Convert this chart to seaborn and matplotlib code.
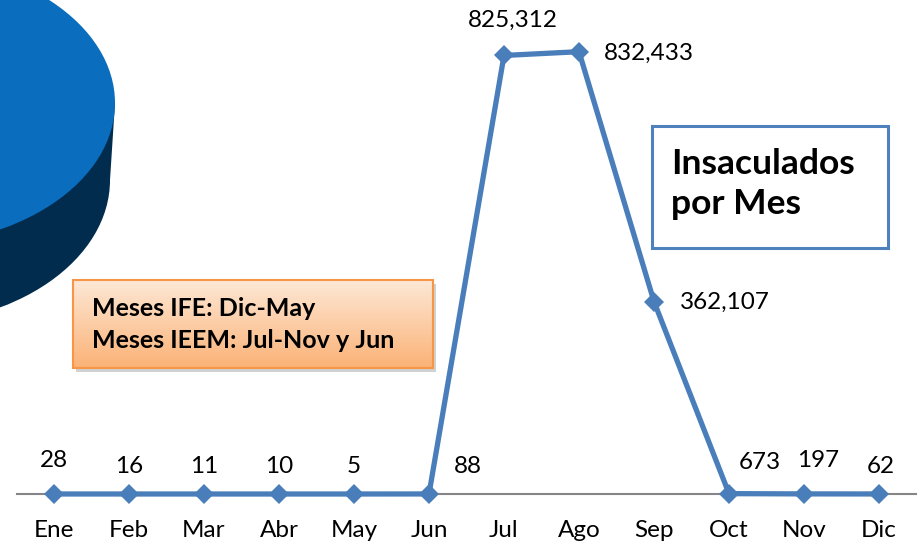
import matplotlib
matplotlib.use("Agg")
import matplotlib.pyplot as plt
import seaborn as sns
import numpy as np
import pandas as pd
from matplotlib.patches import Ellipse, Polygon, Rectangle

# ---- data ----
months = ["Ene", "Feb", "Mar", "Abr", "May", "Jun", "Jul", "Ago", "Sep", "Oct", "Nov", "Dic"]
insaculados = [28, 16, 11, 10, 5, 88, 825312, 832433, 362107, 673, 197, 62]
value_labels = ["28", "16", "11", "10", "5", "88", "825,312", "832,433", "362,107", "673", "197", "62"]
title_text = "Insaculados\npor Mes"
note_lines = ["Meses IFE: Dic-May", "Meses IEEM: Jul-Nov y Jun"]

sns.set_theme(style="white")
plt.rcParams["font.family"] = ["Lato", "DejaVu Sans"]

W, H = 923, 544
fig = plt.figure(figsize=(W / 100, H / 100), dpi=100)
fig.patch.set_facecolor("white")

# overlay (pixel coordinates) for decorations
ov = fig.add_axes([0, 0, 1, 1], zorder=0)
ov.set_xlim(0, W)
ov.set_ylim(H, 0)
ov.axis("off")

# decorative 3D pie fragment (top-left)
dark = "#012C4E"
ov.add_patch(Ellipse((-100, 180), 420, 290, color=dark, lw=0))
ov.add_patch(Polygon([(-315, 103), (115, 103), (110, 180), (-310, 180)], closed=True, color=dark, lw=0))
ov.add_patch(Ellipse((-100, 103), 430, 286, color="#0A6DBE", lw=0))

# main chart
ax_bottom = 50 / H
ax = fig.add_axes([16.5 / W, ax_bottom, 900 / W, 1 - ax_bottom], zorder=2)
ax.patch.set_alpha(0)
df = pd.DataFrame({"Mes": months, "Insaculados": insaculados})
sns.lineplot(data=df, x="Mes", y="Insaculados", sort=False, ax=ax, color="#4A7EBB",
             linewidth=3.8, marker="D", markersize=10.5, markeredgewidth=0,
             markerfacecolor="#4A7EBB", clip_on=False)
ax.set_xlim(-0.5, 11.5)
ax.set_ylim(0, 494 * 1882)
ax.set_xlabel("")
ax.set_ylabel("")
ax.set_yticks([])
ax.tick_params(axis="x", length=0, pad=19, labelsize=17.5, labelcolor="black")
for s in ["top", "left", "right"]:
    ax.spines[s].set_visible(False)
ax.spines["bottom"].set_color("#868686")
ax.spines["bottom"].set_linewidth(1.5)
ax.spines["bottom"].set_zorder(0.5)

# data label offsets in pixels (dx, dy), dy positive = up
offsets = [(0, 33), (0, 27), (0, 27), (0, 27), (0, 27), (39, 27),
           (9, 35), (70, -2), (71, -1), (31, 31), (14, 33), (2, 27)]
for i, (lab, v) in enumerate(zip(value_labels, insaculados)):
    dx, dy = offsets[i]
    ax.annotate(lab, xy=(i, v), xytext=(dx * 0.72, dy * 0.72), textcoords="offset points",
                ha="center", va="center", fontsize=17.5, color="black", annotation_clip=False)

# title box (on top layer in pixel coords)
top = fig.add_axes([0, 0, 1, 1], zorder=3)
top.set_xlim(0, W)
top.set_ylim(H, 0)
top.axis("off")
top.patch.set_alpha(0)

top.add_patch(Rectangle((652, 126), 236, 122, facecolor="white", edgecolor="#4F81BD", lw=2.2))
top.text(671, 184, title_text, ha="left", va="center", fontsize=25.5, fontweight="bold",
         color="black", linespacing=1.3)

# orange note box with gradient and shadow
bx, by, bw, bh = 73, 280, 360, 88
top.add_patch(Rectangle((bx + 3, by + 4), bw, bh, facecolor="#9a9a9a", alpha=0.45, lw=0))
grad = np.linspace(0, 1, 256).reshape(-1, 1)
c0 = np.array([253, 232, 214]) / 255
c1 = np.array([251, 178, 118]) / 255
img = c0[None, None, :] * (1 - grad[..., None]) + c1[None, None, :] * grad[..., None]
img = np.repeat(img, 2, axis=1)
top.imshow(img, extent=(bx, bx + bw, by + bh, by), aspect="auto", zorder=2)
top.add_patch(Rectangle((bx, by), bw, bh, facecolor="none", edgecolor="#F79646", lw=1.5, zorder=3))
top.set_xlim(0, W)
top.set_ylim(H, 0)
top.text(92, 308, note_lines[0], ha="left", va="center", fontsize=18, fontweight="bold",
         color="black", zorder=4)
top.text(92, 341, note_lines[1], ha="left", va="center", fontsize=18, fontweight="bold",
         color="black", zorder=4)

fig.savefig("out.png", dpi=100, facecolor="white")
